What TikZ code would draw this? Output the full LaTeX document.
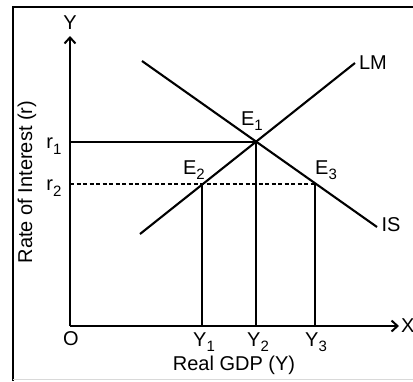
\documentclass[tikz,border=0pt]{standalone}
\usepackage{fontspec}
\setmainfont{Liberation Sans}
\usetikzlibrary{arrows.meta,positioning,calc}

\newcommand{\lowidx}[1]{\raisebox{-0.5ex}{\fontsize{15}{15}\selectfont #1}}

\begin{document}
\begin{tikzpicture}[x=1pt, y=-1pt, line width=2.1pt,
    every node/.style={font=\fontsize{20}{20}\selectfont, inner sep=0pt},
    axis/.style={-{Straight Barb[length=6pt,width=11pt,line width=2pt]}},
    guide/.style={line width=2pt, dash pattern=on 4pt off 2.5pt}]
    \useasboundingbox (0,0) rectangle (413,381);
    % frame
    \draw (13,381) -- (13,7) -- (413,7);
    \draw[black!15, line width=1pt] (13,379) -- (413,379);

    % axes
    \coordinate (O) at (70,326);
    \coordinate (ytop) at (70,36);
    \coordinate (xend) at (399,326);
    \draw[axis] (O) -- (ytop);
    \draw[axis] (O) -- (xend);
    \node (ylab) at (70,23) {Y};
    \node[anchor=west] (xlab) at (400,326) {X};
    \node (olab) at (71,339) {O};

    % curves
    \coordinate (LMa) at (140,234);
    \coordinate (LMb) at (355,63);
    \coordinate (ISa) at (142,61);
    \coordinate (ISb) at (377,227);
    \draw (LMa) -- (LMb);
    \draw (ISa) -- (ISb);
    \node (lmlab) at (373,63) {LM};
    \node (islab) at (391,225) {IS};

    % equilibria
    \coordinate (E1) at (256,142);
    \coordinate (E2) at (202,184);
    \coordinate (E3) at (315,184);
    \coordinate (r1) at (70,142);
    \coordinate (r2) at (70,184);
    \coordinate (Y1) at (202,326);
    \coordinate (Y2) at (256,326);
    \coordinate (Y3) at (315,326);
    \draw (r1) -- (E1) -- (Y2);
    \draw[guide] (r2) -- (E3);
    \draw (E2) -- (Y1);
    \draw (E3) -- (Y3);

    \node (e1lab) at (252,121) {E\lowidx{1}};
    \node (e2lab) at (194,170) {E\lowidx{2}};
    \node (e3lab) at (326,170) {E\lowidx{3}};
    \node (r1lab) at (54,146) {r\lowidx{1}};
    \node (r2lab) at (54,188) {r\lowidx{2}};
    \node (y1lab) at (204,342) {Y\lowidx{1}};
    \node (y2lab) at (258,342) {Y\lowidx{2}};
    \node (y3lab) at (316,342) {Y\lowidx{3}};

    \node (gdp) at (234,365) {Real GDP (Y)};
    \node[rotate=90] (rate) at (27,182) {Rate of Interest (r)};
\end{tikzpicture}
\end{document}
